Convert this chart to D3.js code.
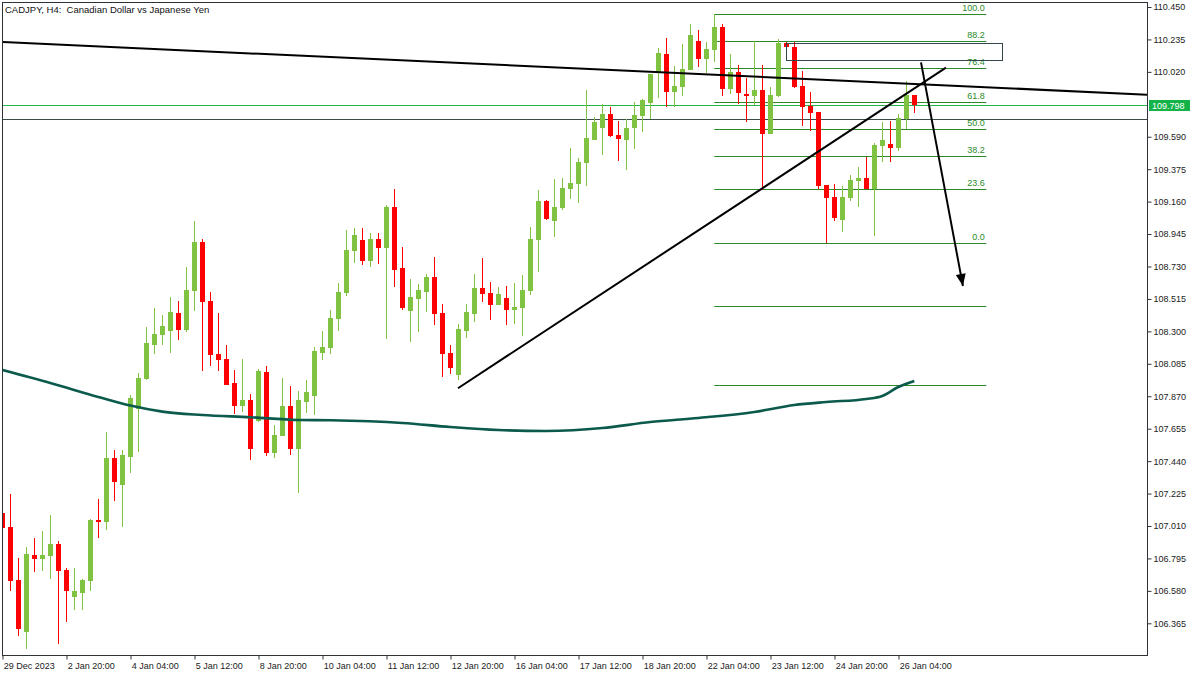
<!DOCTYPE html>
<html><head><meta charset="utf-8">
<script src="https://cdn.jsdelivr.net/npm/d3@7"></script>
<style>body{margin:0;background:#fff}text{font-family:"Liberation Sans",Arial,sans-serif}</style>
</head><body><svg id="c" width="1200" height="675"></svg>
<script>
// ---- data (H4 bars, index 0 = first visible bar) ----
const opens=[107.096,107.003,106.652,106.307,106.818,106.791,106.811,106.891,106.718,106.539,106.566,106.645,107.050,107.037,107.461,107.282,107.467,107.785,107.985,108.210,108.276,108.302,108.422,108.309,108.568,108.892,108.501,108.150,108.117,107.958,107.805,107.845,107.706,108.031,107.494,107.606,107.805,107.520,107.832,107.872,108.157,108.190,108.382,108.554,108.833,108.906,108.766,108.912,108.853,109.124,108.720,108.435,108.514,108.561,108.660,108.422,108.157,108.011,108.302,108.415,108.587,108.554,108.475,108.521,108.442,108.455,108.568,108.906,109.164,109.032,109.118,109.244,109.277,109.416,109.568,109.648,109.741,109.602,109.568,109.648,109.728,109.814,110.019,110.138,109.887,109.920,110.032,110.225,110.105,110.165,110.317,109.907,110.019,109.873,109.860,109.900,109.608,109.860,110.211,110.185,109.926,109.794,109.754,109.270,109.191,109.038,109.184,109.297,109.317,109.244,109.529,109.542,109.515,109.708,109.867];
const highs=[107.129,107.222,106.798,106.871,106.930,106.977,107.083,106.911,106.730,106.732,106.659,107.056,107.189,107.633,107.514,107.514,107.878,108.024,108.329,108.455,108.409,108.528,108.501,108.727,109.032,108.912,108.561,108.422,108.210,108.044,108.117,107.885,108.051,108.070,107.679,107.991,107.938,107.905,107.978,108.196,108.302,108.442,108.621,108.972,108.985,108.985,108.952,108.952,109.138,109.244,108.859,108.647,108.614,108.681,108.793,108.481,108.210,108.349,108.481,108.681,108.786,108.627,108.594,108.601,108.621,108.674,108.992,109.237,109.171,109.310,109.317,109.515,109.449,109.900,109.721,109.807,109.787,109.694,109.708,109.820,109.840,110.006,110.178,110.245,110.059,110.205,110.337,110.298,110.218,110.404,110.337,110.138,110.066,109.979,110.225,110.066,109.920,110.238,110.218,110.218,110.026,109.887,109.754,109.270,109.277,109.264,109.337,109.390,109.456,109.549,109.688,109.694,109.741,109.960,109.867];
const lows=[106.984,106.579,106.281,106.195,106.705,106.712,106.659,106.228,106.374,106.453,106.453,106.579,106.930,106.984,107.176,107.003,107.361,107.500,107.978,108.150,108.210,108.157,108.243,108.296,108.435,108.037,108.070,108.037,107.945,107.752,107.766,107.447,107.699,107.474,107.461,107.606,107.481,107.229,107.759,107.746,108.110,108.150,108.302,108.534,108.753,108.740,108.727,108.747,108.249,108.594,108.442,108.230,108.296,108.428,108.342,107.998,108.017,107.978,108.256,108.362,108.495,108.375,108.475,108.342,108.349,108.269,108.541,108.694,109.038,108.925,109.104,109.177,109.151,109.264,109.568,109.469,109.588,109.429,109.370,109.509,109.621,109.708,109.847,109.787,109.787,109.860,110.032,110.052,110.013,110.085,109.860,109.873,109.807,109.688,109.801,109.237,109.608,109.853,110.185,109.913,109.661,109.628,109.244,108.884,109.032,108.959,109.164,109.124,109.244,108.932,109.423,109.423,109.496,109.641,109.748];
const closes=[106.997,106.645,106.327,106.824,106.791,106.818,106.891,106.712,106.579,106.579,106.652,107.050,107.037,107.461,107.302,107.481,107.858,107.991,108.223,108.283,108.336,108.428,108.309,108.574,108.892,108.495,108.143,108.110,107.945,107.805,107.845,107.520,108.037,107.494,107.613,107.805,107.520,107.845,107.898,108.170,108.196,108.389,108.561,108.839,108.939,108.766,108.912,108.853,109.124,108.707,108.455,108.528,108.574,108.660,108.415,108.150,108.057,108.316,108.428,108.587,108.547,108.475,108.547,108.442,108.462,108.574,108.912,109.164,109.045,109.124,109.250,109.284,109.423,109.582,109.688,109.741,109.595,109.575,109.648,109.734,109.834,110.006,110.145,109.887,109.926,110.039,110.264,110.105,110.172,110.317,109.907,110.019,109.880,109.860,109.900,109.608,109.867,110.211,110.185,109.920,109.787,109.748,109.264,109.184,109.052,109.191,109.303,109.317,109.244,109.535,109.568,109.515,109.714,109.867,109.798];
// moving average, sampled at bar indices
const maIndex=[0,6,12,16,20,25,31,37,41,50,56,62,68,75,81,87,94,99,103,108,110,112,114];
const maValues=[108.044,107.958,107.865,107.808,107.768,107.746,107.731,107.713,107.711,107.693,107.666,107.646,107.640,107.659,107.699,107.726,107.766,107.812,107.832,107.852,107.872,107.931,107.971];
const xTickIndex=[0,8,16,24,32,40,48,56,64,72,80,88,96,104,112];
const xTickLabels=["29 Dec 2023","2 Jan 20:00","4 Jan 04:00","5 Jan 12:00","8 Jan 20:00","10 Jan 04:00","11 Jan 12:00","12 Jan 20:00","16 Jan 04:00","17 Jan 12:00","18 Jan 20:00","22 Jan 04:00","23 Jan 12:00","24 Jan 20:00","26 Jan 04:00"];
const yTickValues=[110.450,110.235,110.020,109.590,109.375,109.160,108.945,108.730,108.515,108.300,108.085,107.870,107.655,107.440,107.225,107.010,106.795,106.580,106.365];
const lastPrice=109.798;
const grayLinePrice=109.708;
const fibHigh=110.404, fibLow=108.884, fibStart=89, fibEnd=123;
const fibLevels=[100,88.2,76.4,61.8,50,38.2,23.6,0];
const fibExtLevels=[-27.2,-61.8];
const downTrend=[{i:0,p:110.218},{i:143.1,p:109.869}];
const upTrend=[{i:56.96,p:107.923},{i:117.96,p:110.048}];
const arrowPts=[{i:114.84,p:110.083},{i:120.08,p:108.601}];
const zoneRect={i0:98,i1:125,p0:110.211,p1:110.099};
const title="CADJPY, H4:  Canadian Dollar vs Japanese Yen";

// ---- drawing ----
const svg=d3.select("#c");
const L=2,R=1147,T=2,B=655;
const x=d3.scaleLinear().domain([0,143]).range([2.3,1146.3]);
const y=d3.scaleLinear().domain([106.365,110.450]).range([623.3,7]);
svg.append("rect").attr("width",1200).attr("height",675).attr("fill","#fff");
svg.append("defs").append("clipPath").attr("id","plot").append("rect")
  .attr("x",L+1).attr("y",T+1).attr("width",R-L-1).attr("height",B-T-1);
const g=svg.append("g").attr("clip-path","url(#plot)");

const UP="#80c342",DN="#ff0000",FIB="#2a8a2a";
// full-width lines
g.append("line").attr("x1",L).attr("x2",R).attr("y1",Math.round(y(grayLinePrice))+0.5).attr("y2",Math.round(y(grayLinePrice))+0.5).attr("stroke","#3b4a4a").attr("stroke-width",1);
g.append("line").attr("x1",L).attr("x2",R).attr("y1",Math.round(y(lastPrice))+0.5).attr("y2",Math.round(y(lastPrice))+0.5).attr("stroke","#27b14a").attr("stroke-width",1);

// fibonacci
const fibPrice=l=>fibLow+(fibHigh-fibLow)*l/100;
const fg=g.append("g");
fibLevels.concat(fibExtLevels).forEach(l=>{
  const yy=Math.round(y(fibPrice(l)))+0.5;
  fg.append("line").attr("x1",x(fibStart)).attr("x2",x(fibEnd)).attr("y1",yy).attr("y2",yy).attr("stroke",FIB).attr("stroke-width",1);
});
fibLevels.forEach(l=>{
  fg.append("text").attr("x",x(fibEnd)-1.5).attr("y",y(fibPrice(l))-3).attr("text-anchor","end")
    .attr("font-size",9).attr("fill",FIB).text(l.toFixed(1));
});

// candles
const idx=d3.range(opens.length);
const cg=g.append("g").attr("shape-rendering","crispEdges");
cg.selectAll("line.w").data(idx).join("line").attr("class","w")
  .attr("x1",i=>Math.round(x(i))+0.5).attr("x2",i=>Math.round(x(i))+0.5)
  .attr("y1",i=>y(highs[i])).attr("y2",i=>y(lows[i]))
  .attr("stroke",i=>closes[i]>=opens[i]?UP:DN).attr("stroke-width",1);
cg.selectAll("rect.b").data(idx).join("rect").attr("class","b")
  .attr("x",i=>Math.round(x(i))-2).attr("width",5)
  .attr("y",i=>Math.min(y(opens[i]),y(closes[i])))
  .attr("height",i=>Math.max(1.5,Math.abs(y(opens[i])-y(closes[i]))))
  .attr("fill",i=>closes[i]>=opens[i]?UP:DN);

// moving average
const maData=maIndex.map((d,k)=>({i:d,v:maValues[k]}));
g.append("path").datum(maData).attr("fill","none").attr("stroke","#0b5a4c").attr("stroke-width",2.6)
  .attr("d",d3.line().x(d=>x(d.i)).y(d=>y(d.v)).curve(d3.curveMonotoneX));

// zone rectangle
g.append("rect").attr("x",Math.round(x(zoneRect.i0))+0.5).attr("y",Math.round(y(zoneRect.p0))+0.5)
  .attr("width",Math.round(x(zoneRect.i1))-Math.round(x(zoneRect.i0))).attr("height",Math.round(y(zoneRect.p1))-Math.round(y(zoneRect.p0)))
  .attr("fill","none").attr("stroke","#34474a").attr("stroke-width",1);

// trend lines
const ln=d3.line().x(d=>x(d.i)).y(d=>y(d.p));
g.append("path").datum(downTrend).attr("d",ln).attr("stroke","#000").attr("stroke-width",2).attr("fill","none");
g.append("path").datum(upTrend).attr("d",ln).attr("stroke","#000").attr("stroke-width",2).attr("fill","none");
// arrow
g.append("path").datum(arrowPts).attr("d",ln).attr("stroke","#000").attr("stroke-width",2).attr("fill","none");
{
  const x1=x(arrowPts[0].i),y1=y(arrowPts[0].p),x2=x(arrowPts[1].i),y2=y(arrowPts[1].p);
  const dx=x2-x1,dy=y2-y1,len=Math.hypot(dx,dy),ux=dx/len,uy=dy/len,px=-uy,py=ux;
  const hl=12,hw=5;
  const bx=x2-ux*hl,by=y2-uy*hl;
  g.append("path").attr("d",`M${x2},${y2}L${bx+px*hw},${by+py*hw}L${bx-px*hw},${by-py*hw}Z`).attr("fill","#000");
}

// frame
svg.append("rect").attr("x",L+0.5).attr("y",T+0.5).attr("width",R-L).attr("height",B-T)
  .attr("fill","none").attr("stroke","#2f3236").attr("stroke-width",1);

// axes
const ya=d3.axisRight(y).tickValues(yTickValues).tickSize(4).tickPadding(2).tickFormat(d3.format(".3f"));
const yg=svg.append("g").attr("transform",`translate(${R+0.5},0)`).call(ya);
yg.select(".domain").remove();
yg.selectAll("line").attr("stroke","#2f3236");
yg.selectAll("text").attr("font-size",9).attr("fill","#222").attr("font-family","Liberation Sans, Arial, sans-serif");

const xa=d3.axisBottom(x).tickValues(xTickIndex).tickSize(4).tickFormat((d,k)=>xTickLabels[k]);
const xg=svg.append("g").attr("transform",`translate(0,${B+0.5})`).call(xa);
xg.select(".domain").remove();
xg.selectAll("line").attr("stroke","#2f3236").attr("transform","translate(0.2,0)");
xg.selectAll("text").attr("text-anchor","start").attr("dx",0).attr("x",1).attr("y",7).attr("font-size",9).attr("fill","#222").attr("font-family","Liberation Sans, Arial, sans-serif");

// last price label
const ly=y(lastPrice);
svg.append("rect").attr("x",R+2).attr("y",Math.round(ly)-5).attr("width",41).attr("height",11).attr("fill","#13b34a");
svg.append("text").attr("x",R+5).attr("y",ly).attr("dy","0.35em").attr("font-size",9).attr("fill","#fff").text(lastPrice.toFixed(3));

// title
svg.append("text").attr("x",5).attr("y",13).attr("font-size",9.5).attr("fill","#111").style("white-space","pre").text(title);
</script></body></html>
